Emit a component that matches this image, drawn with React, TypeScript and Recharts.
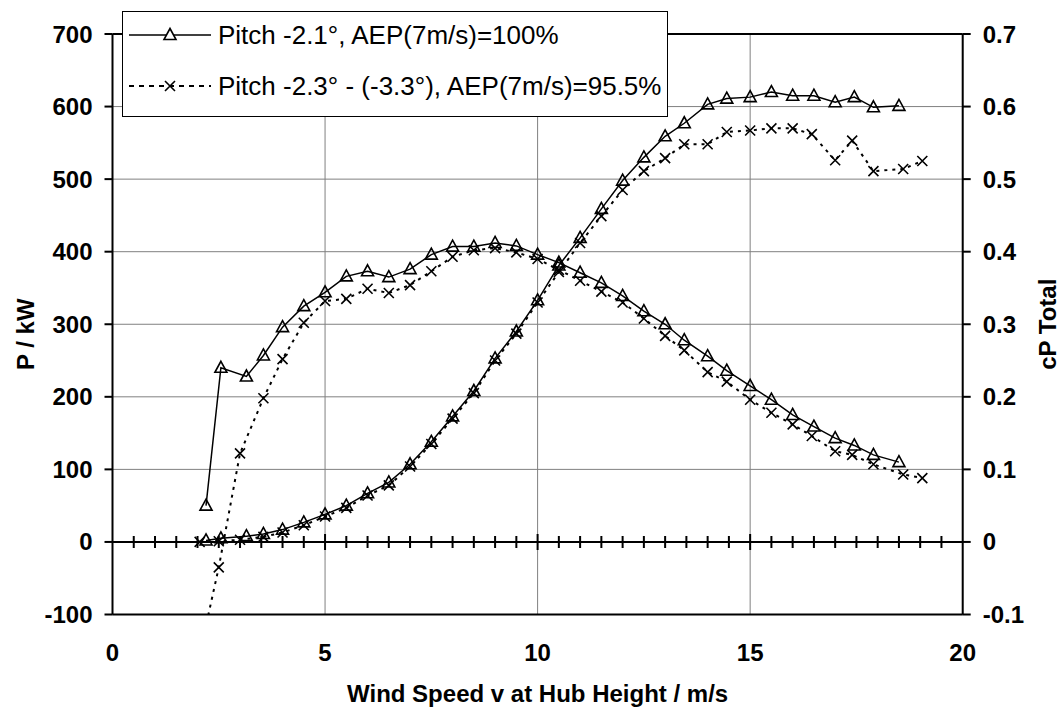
import React from 'react';
import { ComposedChart, Line, Scatter, XAxis, YAxis, CartesianGrid, ReferenceLine } from 'recharts';

// ---------- data ----------
const seriesNames = ['Pitch -2.1°, AEP(7m/s)=100%', 'Pitch -2.3° - (-3.3°), AEP(7m/s)=95.5%'];

const triSpeed = [2.2, 2.55, 3.15, 3.55, 4.0, 4.5, 5.0, 5.5, 6.0, 6.5, 7.0, 7.5, 8.0, 8.5, 9.0, 9.5, 10.0, 10.5, 11.0, 11.5, 12.0, 12.5, 13.0, 13.45, 14.0, 14.45, 15.0, 15.5, 16.0, 16.5, 17.0, 17.45, 17.9, 18.5];
const triPower = [2, 5, 8, 11, 17, 27, 38, 50, 67, 82, 107, 138, 173, 208, 253, 290, 333, 381, 419, 459, 498, 530, 559, 577, 603, 611, 613, 620, 615, 615, 606, 613, 599, 601];
const triCp = [0.05, 0.24, 0.228, 0.257, 0.296, 0.325, 0.344, 0.366, 0.373, 0.365, 0.376, 0.396, 0.407, 0.407, 0.412, 0.408, 0.396, 0.385, 0.371, 0.357, 0.339, 0.318, 0.3, 0.278, 0.256, 0.236, 0.215, 0.196, 0.175, 0.159, 0.143, 0.133, 0.12, 0.11];

const crossSpeed = [2.05, 2.5, 3.0, 3.55, 4.0, 4.5, 5.0, 5.5, 6.0, 6.5, 7.0, 7.5, 8.0, 8.5, 9.0, 9.5, 10.0, 10.5, 11.0, 11.5, 12.0, 12.5, 13.0, 13.45, 14.0, 14.45, 15.0, 15.5, 16.0, 16.45, 17.0, 17.4, 17.9, 18.6, 19.05];
const crossPower = [0, 1, 3, 7, 13, 23, 35, 47, 64, 78, 104, 135, 170, 205, 250, 287, 330, 372, 412, 449, 485, 511, 529, 548, 548, 565, 567, 570, 570, 562, 526, 553, 511, 514, 525];
const crossCp = [-0.155, -0.035, 0.122, 0.198, 0.252, 0.302, 0.332, 0.335, 0.349, 0.343, 0.354, 0.373, 0.393, 0.402, 0.405, 0.399, 0.39, 0.375, 0.36, 0.345, 0.33, 0.308, 0.284, 0.264, 0.234, 0.221, 0.196, 0.178, 0.162, 0.146, 0.125, 0.12, 0.107, 0.093, 0.088];

const xTicks = [0, 5, 10, 15, 20];
const pTicks = [-100, 0, 100, 200, 300, 400, 500, 600, 700];
const cpTicks = [-0.1, 0, 0.1, 0.2, 0.3, 0.4, 0.5, 0.6, 0.7];

const pMinorTicks = Array.from({ length: 41 }, (_, i) => -100 + i * 20);
const cpMinorTicks = Array.from({ length: 41 }, (_, i) => Math.round((-0.1 + i * 0.02) * 1000) / 1000);
const zeroLineTicks = Array.from({ length: 39 }, (_, i) => ({ v: 0.5 + i * 0.5, y: 0 }));

const triRows = triSpeed.map((v, i) => ({ v, p: triPower[i], cp: triCp[i] }));
const crossRows = crossSpeed.map((v, i) => ({ v, p: crossPower[i], cp: crossCp[i] }));

// ---------- styles ----------
const FONT = '"Liberation Sans", Arial, Helvetica, sans-serif';
const tickStyle = { fill: '#000', fontSize: 24, fontWeight: 700, fontFamily: FONT };

const TriDot = (props: any) => {
  const { cx, cy, index } = props;
  if (cx == null || cy == null || isNaN(cx) || isNaN(cy)) return <g key={'t' + index} />;
  return (
    <path key={'t' + index} d={`M${cx},${cy - 6.5}L${cx + 6},${cy + 4.5}L${cx - 6},${cy + 4.5}Z`}
      fill="none" stroke="#000" strokeWidth={1.6} />
  );
};

const CrossDot = (props: any) => {
  const { cx, cy, index } = props;
  if (cx == null || cy == null || isNaN(cx) || isNaN(cy)) return <g key={'c' + index} />;
  return (
    <path key={'c' + index} d={`M${cx - 5},${cy - 5}L${cx + 5},${cy + 5}M${cx + 5},${cy - 5}L${cx - 5},${cy + 5}`}
      fill="none" stroke="#000" strokeWidth={1.6} />
  );
};

const ZeroTick = (props: any) => {
  const { cx, cy, payload } = props;
  const major = payload && payload.v % 5 === 0;
  const h = major ? 8 : 6;
  return <line x1={cx} x2={cx} y1={cy - h} y2={cy + h} stroke="#000" strokeWidth={2} />;
};

const cpFormat = (v: number) => (Math.abs(v) < 1e-9 ? '0' : v.toFixed(1));

const LeftTitle = (props: any) => {
  const vb = props.viewBox || {};
  const x = (vb.x ?? 0) + 25;
  const y = (vb.y ?? 34) + (vb.height ?? 580) / 2 + 10;
  return (
    <text x={x} y={y} transform={`rotate(-90 ${x} ${y})`} textAnchor="middle" dominantBaseline="central"
      style={{ fontSize: 24, fontWeight: 700, fontFamily: FONT, fill: '#000' }}>P / kW</text>
  );
};

const RightTitle = (props: any) => {
  const vb = props.viewBox || {};
  const x = (vb.x ?? 962.7) + 84.5;
  const y = (vb.y ?? 34) + (vb.height ?? 580) / 2;
  return (
    <text x={x} y={y} transform={`rotate(-90 ${x} ${y})`} textAnchor="middle" dominantBaseline="central"
      style={{ fontSize: 24, fontWeight: 700, fontFamily: FONT, fill: '#000' }}>cP Total</text>
  );
};

const BottomTitle = (props: any) => {
  const vb = props.viewBox || {};
  const x = (vb.x ?? 112.5) + (vb.width ?? 850) / 2;
  const y = (vb.y ?? 614.5) + 78.5;
  return (
    <text x={x} y={y} textAnchor="middle" dominantBaseline="central"
      style={{ fontSize: 24, fontWeight: 700, fontFamily: FONT, fill: '#000' }}>Wind Speed v at Hub Height / m/s</text>
  );
};

const LegendBox = () => (
  <div style={{
    position: 'absolute', left: 122, top: 11, width: 546, height: 106, boxSizing: 'border-box',
    border: '1.5px solid #000', background: '#fff', fontFamily: FONT, fontSize: 26, color: '#000',
  }}>
    {seriesNames.map((name, i) => (
      <div key={name} style={{ position: 'absolute', left: 0, top: i === 0 ? 3 : 54, height: 40, width: 540, display: 'flex', alignItems: 'center' }}>
        <svg width={88} height={20} style={{ marginLeft: 6, flex: 'none' }}>
          <line x1={0} x2={82} y1={10} y2={10} stroke="#000" strokeWidth={i === 0 ? 1.5 : 2}
            strokeDasharray={i === 0 ? undefined : '5 5'} />
          {i === 0
            ? <path d="M41,3.5L47,14.5L35,14.5Z" fill="#fff" stroke="#000" strokeWidth={1.6} />
            : <path d="M36,5L46,15M46,5L36,15" stroke="#000" strokeWidth={1.6} />}
        </svg>
        <span style={{ marginLeft: 1, whiteSpace: 'nowrap', lineHeight: '30px' }}>{name}</span>
      </div>
    ))}
  </div>
);

export default function App() {
  return (
    <div style={{ position: 'relative', width: 1061, height: 708, background: '#fff', overflow: 'hidden' }}>
      <style>{'html,body{margin:0;padding:0;overflow:hidden;background:#fff}'}</style>
      <ComposedChart width={1061} height={708} margin={{ top: 34, right: 0, bottom: 0, left: 0 }}>
        <CartesianGrid yAxisId="p" stroke="#808080" strokeWidth={1} />
        <XAxis dataKey="v" type="number" domain={[0, 20]} ticks={xTicks} interval={0} allowDataOverflow
          height={93.5} tickLine={false} tickSize={0} tickMargin={29}
          axisLine={{ stroke: '#000', strokeWidth: 2 }} tick={tickStyle} label={BottomTitle} />
        <YAxis yAxisId="p" type="number" domain={[-100, 700]} ticks={pTicks} interval={0} allowDataOverflow
          width={112.5} tickSize={8} tickMargin={12}
          axisLine={{ stroke: '#000', strokeWidth: 2 }} tickLine={{ stroke: '#000', strokeWidth: 2 }}
          tick={tickStyle} label={LeftTitle} />
        <YAxis yAxisId="pMinor" type="number" domain={[-100, 700]} ticks={pMinorTicks} interval={0} allowDataOverflow
          mirror orientation="left" width={10} tickSize={6.5} tick={false} axisLine={false}
          tickLine={{ stroke: '#000', strokeWidth: 1.5 }} />
        <YAxis yAxisId="cp" orientation="right" type="number" domain={[-0.1, 0.7]} ticks={cpTicks} interval={0}
          allowDataOverflow width={98.3} tickSize={8} tickMargin={12} tickFormatter={cpFormat}
          axisLine={{ stroke: '#000', strokeWidth: 2 }} tickLine={{ stroke: '#000', strokeWidth: 2 }}
          tick={{ ...tickStyle, textAnchor: 'start' }} label={RightTitle} />
        <YAxis yAxisId="cpMinor" orientation="right" type="number" domain={[-0.1, 0.7]} ticks={cpMinorTicks}
          interval={0} allowDataOverflow mirror width={10} tickSize={6} tick={false} axisLine={false}
          tickLine={{ stroke: '#000', strokeWidth: 1.5 }} />

        <ReferenceLine yAxisId="p" y={700} stroke="#000" strokeWidth={2} />
        <ReferenceLine yAxisId="p" y={0} stroke="#000" strokeWidth={2} />
        <Scatter yAxisId="p" data={zeroLineTicks} dataKey="y" shape={ZeroTick} isAnimationActive={false} legendType="none" />

        <Line yAxisId="p" data={triRows} dataKey="p" type="linear" stroke="#000" strokeWidth={1.5}
          dot={TriDot} activeDot={false} isAnimationActive={false} name={seriesNames[0]} />
        <Line yAxisId="cp" data={triRows} dataKey="cp" type="linear" stroke="#000" strokeWidth={1.5}
          dot={TriDot} activeDot={false} isAnimationActive={false} name={seriesNames[0] + ' cP'} />
        <Line yAxisId="p" data={crossRows} dataKey="p" type="linear" stroke="#000" strokeWidth={2}
          strokeDasharray="3 5" dot={CrossDot} activeDot={false} isAnimationActive={false} name={seriesNames[1]} />
        <Line yAxisId="cp" data={crossRows} dataKey="cp" type="linear" stroke="#000" strokeWidth={2}
          strokeDasharray="3 5" dot={CrossDot} activeDot={false} isAnimationActive={false} name={seriesNames[1] + ' cP'} />
      </ComposedChart>
      <LegendBox />
    </div>
  );
}
